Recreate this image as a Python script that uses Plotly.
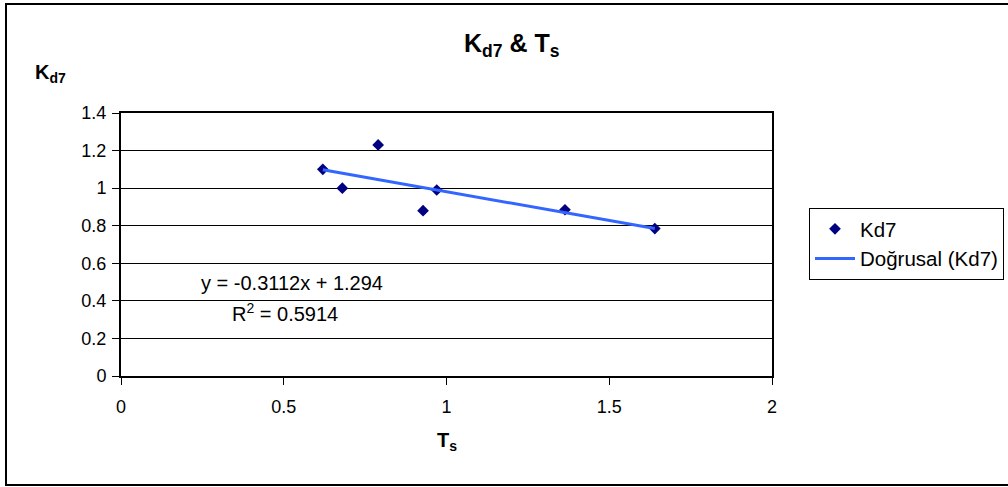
import numpy as np
import plotly.graph_objects as go

# Data
ts_values = [0.62, 0.68, 0.79, 0.928, 0.97, 1.364, 1.64]
kd7_values = [1.10, 1.00, 1.23, 0.88, 0.99, 0.885, 0.785]
x_ticks = [0, 0.5, 1, 1.5, 2]
y_ticks = [0, 0.2, 0.4, 0.6, 0.8, 1.0, 1.2, 1.4]
eq_text = "y = -0.3112x + 1.294"
r2_text = "R<sup>2</sup> = 0.5914"

slope, intercept = np.polyfit(ts_values, kd7_values, 1)
trend_x = [min(ts_values), max(ts_values)]
trend_y = [slope * v + intercept for v in trend_x]

FONT = "Liberation Sans, Arial, sans-serif"

fig = go.Figure()
fig.add_trace(go.Scatter(
    x=ts_values, y=kd7_values, mode="markers", name="Kd7",
    marker=dict(symbol="diamond", size=9, color="#000080",
                line=dict(width=0)),
))
fig.add_trace(go.Scatter(
    x=trend_x, y=trend_y, mode="lines", name="Doğrusal (Kd7)",
    line=dict(color="#3366FF", width=3),
))

W, H = 1008, 487
L, R, T, B = 121, 236, 113, 111
pw, ph = W - L - R, H - T - B

def px(x):
    return (x - L) / pw

def py(y):
    return (H - B - y) / ph

fig.update_layout(
    width=W, height=H,
    margin=dict(l=L, r=R, t=T, b=B, pad=0, autoexpand=False),
    paper_bgcolor="white", plot_bgcolor="white",
    font=dict(family=FONT, size=18, color="black"),
    showlegend=True,
    legend=dict(x=px(809), y=py(208), xanchor="left", yanchor="top",
                bordercolor="black", borderwidth=1, bgcolor="white",
                font=dict(size=20.5), tracegroupgap=0, itemwidth=40),
    xaxis=dict(range=[0, 2], tickvals=x_ticks, showgrid=False,
               showline=True, linecolor="black", linewidth=2, mirror=True,
               ticks="outside", ticklen=7, tickcolor="black", tickwidth=1,
               zeroline=False, fixedrange=True, tickfont=dict(size=18),
               ticklabelstandoff=6),
    yaxis=dict(range=[0, 1.4], tickvals=y_ticks, showgrid=True,
               gridcolor="black", gridwidth=1,
               showline=True, linecolor="black", linewidth=2, mirror=True,
               ticks="outside", ticklen=7, tickcolor="black", tickwidth=1,
               zeroline=False, fixedrange=True, tickfont=dict(size=18),
               ticklabelstandoff=2),
    shapes=[dict(type="rect", xref="paper", yref="paper",
                 x0=px(6), x1=px(1012), y0=py(485), y1=py(4),
                 line=dict(color="black", width=2), fillcolor="rgba(0,0,0,0)")],
    annotations=[
        dict(text="<b>K<sub>d7</sub> & T<sub>s</sub></b>", xref="paper", yref="paper",
             x=px(512), y=py(45), xanchor="center", yanchor="middle",
             showarrow=False, font=dict(size=25)),
        dict(text="<b>K<sub>d7</sub></b>", xref="paper", yref="paper",
             x=px(50), y=py(73), xanchor="center", yanchor="middle",
             showarrow=False, font=dict(size=20)),
        dict(text="<b>T<sub>s</sub></b>", xref="paper", yref="paper",
             x=px(447), y=py(441), xanchor="center", yanchor="middle",
             showarrow=False, font=dict(size=20)),
        dict(text=eq_text, xref="paper", yref="paper",
             x=px(292), y=py(283), xanchor="center", yanchor="middle",
             showarrow=False, font=dict(size=20)),
        dict(text=r2_text, xref="paper", yref="paper",
             x=px(285), y=py(312), xanchor="center", yanchor="middle",
             showarrow=False, font=dict(size=20)),
    ],
)

fig.write_html("out.html", config={"displayModeBar": False},
               post_script="document.body.style.margin='0';")
